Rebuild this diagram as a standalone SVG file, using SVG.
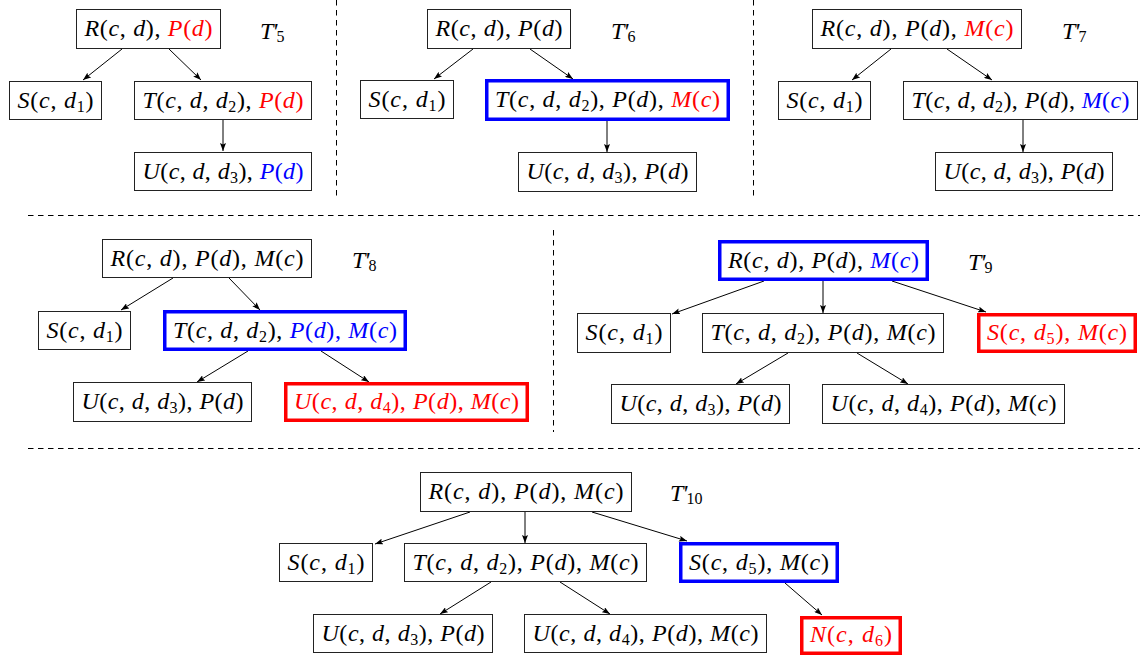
<svg xmlns="http://www.w3.org/2000/svg" width="1140" height="656" viewBox="0 0 1140 656" font-family="'Liberation Serif', serif">
<style>
text{font-family:'Liberation Serif',serif;font-size:24px;fill:#000;text-anchor:middle}
.lbl{text-anchor:start}
.i{font-style:italic}
.s{font-size:16px}
.r{fill:#ff0000}
.b{fill:#0000ff}
.box{fill:#fff;stroke:#222;stroke-width:1}
.bb{fill:#fff;stroke:#0000ff;stroke-width:3.5}
.rb{fill:#fff;stroke:#ff0000;stroke-width:3.5}
.sep{stroke:#000;stroke-width:1;stroke-dasharray:5.5 4.5;fill:none}
.e{stroke:#000;stroke-width:1;fill:none;marker-end:url(#ah)}
</style>
<defs>
<marker id="ah" markerWidth="8" markerHeight="6" refX="8" refY="3" orient="auto" markerUnits="userSpaceOnUse"><path d="M0,0 L8,3 L0,6 L1.5,3 z" fill="#000"/></marker>
</defs>
<rect width="1140" height="656" fill="#fff"/>
<g id="separators">
<line class="sep" x1="336.5" y1="0" x2="336.5" y2="200"/>
<line class="sep" x1="753.5" y1="0" x2="753.5" y2="200"/>
<line class="sep" x1="28" y1="215.5" x2="1140" y2="215.5"/>
<line class="sep" x1="553.5" y1="230" x2="553.5" y2="432"/>
<line class="sep" x1="28" y1="448.5" x2="1140" y2="448.5"/>
</g>
<g id="connectors">
<line class="e" x1="122" y1="49" x2="83" y2="80"/>
<line class="e" x1="169" y1="49" x2="201" y2="80"/>
<line class="e" x1="223" y1="120" x2="223" y2="151"/>
<line class="e" x1="473" y1="49" x2="434" y2="79"/>
<line class="e" x1="530" y1="49" x2="573" y2="79"/>
<line class="e" x1="607" y1="121" x2="607" y2="152"/>
<line class="e" x1="891" y1="49" x2="852" y2="80"/>
<line class="e" x1="947" y1="49" x2="992" y2="80"/>
<line class="e" x1="1023" y1="120" x2="1023" y2="152"/>
<line class="e" x1="173" y1="278" x2="121" y2="310"/>
<line class="e" x1="229" y1="278" x2="260" y2="310"/>
<line class="e" x1="248" y1="351" x2="197" y2="382"/>
<line class="e" x1="321" y1="351" x2="369" y2="382"/>
<line class="e" x1="764" y1="281" x2="672" y2="314"/>
<line class="e" x1="823" y1="281" x2="823" y2="313"/>
<line class="e" x1="892" y1="281" x2="986" y2="312"/>
<line class="e" x1="788" y1="353" x2="736" y2="384"/>
<line class="e" x1="857" y1="353" x2="908" y2="384"/>
<line class="e" x1="470" y1="512" x2="375" y2="544"/>
<line class="e" x1="525" y1="512" x2="525" y2="543"/>
<line class="e" x1="592" y1="512" x2="687" y2="541"/>
<line class="e" x1="491" y1="582" x2="440" y2="614"/>
<line class="e" x1="560" y1="582" x2="610" y2="614"/>
<line class="e" x1="785" y1="583" x2="822" y2="615"/>
</g>

<g id="t5-label"><text class="lbl" x="260" y="39"><tspan class="i">T</tspan><tspan class="i" dx="-1">'</tspan><tspan class="s" dx="-1" dy="3">5</tspan></text></g>
<g id="t5-R"><rect class="box" x="76.5" y="9.5" width="144" height="39"/><text x="148.5" y="36" textLength="128"><tspan class="i">R</tspan>(<tspan class="i">c</tspan>, <tspan class="i">d</tspan>), <tspan class="r"><tspan class="i">P</tspan>(<tspan class="i">d</tspan>)</tspan></text></g>
<g id="t5-S"><rect class="box" x="9.5" y="81.5" width="92" height="38"/><text x="55.5" y="107.5" textLength="76"><tspan class="i">S</tspan>(<tspan class="i">c</tspan>, <tspan class="i">d</tspan><tspan class="s" dy="4">1</tspan><tspan dy="-4">)</tspan></text></g>
<g id="t5-T"><rect class="box" x="134.5" y="81.5" width="177" height="38"/><text x="223" y="107.5" textLength="161"><tspan class="i">T</tspan>(<tspan class="i">c</tspan>, <tspan class="i">d</tspan>, <tspan class="i">d</tspan><tspan class="s" dy="4">2</tspan><tspan dy="-4">),</tspan> <tspan class="r"><tspan class="i">P</tspan>(<tspan class="i">d</tspan>)</tspan></text></g>
<g id="t5-U"><rect class="box" x="134.5" y="152.5" width="177" height="38"/><text x="223" y="178.5" textLength="161"><tspan class="i">U</tspan>(<tspan class="i">c</tspan>, <tspan class="i">d</tspan>, <tspan class="i">d</tspan><tspan class="s" dy="4">3</tspan><tspan dy="-4">),</tspan> <tspan class="b"><tspan class="i">P</tspan>(<tspan class="i">d</tspan>)</tspan></text></g>

<g id="t6-label"><text class="lbl" x="611" y="39"><tspan class="i">T</tspan><tspan class="i" dx="-1">'</tspan><tspan class="s" dx="-1" dy="3">6</tspan></text></g>
<g id="t6-R"><rect class="box" x="427.5" y="9.5" width="143" height="39"/><text x="499" y="36" textLength="127"><tspan class="i">R</tspan>(<tspan class="i">c</tspan>, <tspan class="i">d</tspan>), <tspan class="i">P</tspan>(<tspan class="i">d</tspan>)</text></g>
<g id="t6-S"><rect class="box" x="360.5" y="80.5" width="93" height="38"/><text x="407" y="106.5" textLength="77"><tspan class="i">S</tspan>(<tspan class="i">c</tspan>, <tspan class="i">d</tspan><tspan class="s" dy="4">1</tspan><tspan dy="-4">)</tspan></text></g>
<g id="t6-T"><rect class="bb" x="486.75" y="80.75" width="241.5" height="38.5"/><text x="607.5" y="107" textLength="225"><tspan class="i">T</tspan>(<tspan class="i">c</tspan>, <tspan class="i">d</tspan>, <tspan class="i">d</tspan><tspan class="s" dy="4">2</tspan><tspan dy="-4">),</tspan> <tspan class="i">P</tspan>(<tspan class="i">d</tspan>), <tspan class="r"><tspan class="i">M</tspan>(<tspan class="i">c</tspan>)</tspan></text></g>
<g id="t6-U"><rect class="box" x="518.5" y="152.5" width="178" height="39"/><text x="607.5" y="179" textLength="162"><tspan class="i">U</tspan>(<tspan class="i">c</tspan>, <tspan class="i">d</tspan>, <tspan class="i">d</tspan><tspan class="s" dy="4">3</tspan><tspan dy="-4">),</tspan> <tspan class="i">P</tspan>(<tspan class="i">d</tspan>)</text></g>

<g id="t7-label"><text class="lbl" x="1062" y="39"><tspan class="i">T</tspan><tspan class="i" dx="-1">'</tspan><tspan class="s" dx="-1" dy="3">7</tspan></text></g>
<g id="t7-R"><rect class="box" x="812.5" y="9.5" width="209" height="39"/><text x="917" y="36" textLength="193"><tspan class="i">R</tspan>(<tspan class="i">c</tspan>, <tspan class="i">d</tspan>), <tspan class="i">P</tspan>(<tspan class="i">d</tspan>), <tspan class="r"><tspan class="i">M</tspan>(<tspan class="i">c</tspan>)</tspan></text></g>
<g id="t7-S"><rect class="box" x="778.5" y="81.5" width="92" height="38"/><text x="824.5" y="107.5" textLength="76"><tspan class="i">S</tspan>(<tspan class="i">c</tspan>, <tspan class="i">d</tspan><tspan class="s" dy="4">1</tspan><tspan dy="-4">)</tspan></text></g>
<g id="t7-T"><rect class="box" x="903.5" y="81.5" width="234" height="38"/><text x="1020.5" y="107.5" textLength="218"><tspan class="i">T</tspan>(<tspan class="i">c</tspan>, <tspan class="i">d</tspan>, <tspan class="i">d</tspan><tspan class="s" dy="4">2</tspan><tspan dy="-4">),</tspan> <tspan class="i">P</tspan>(<tspan class="i">d</tspan>), <tspan class="b"><tspan class="i">M</tspan>(<tspan class="i">c</tspan>)</tspan></text></g>
<g id="t7-U"><rect class="box" x="935.5" y="152.5" width="177" height="38"/><text x="1024" y="178.5" textLength="161"><tspan class="i">U</tspan>(<tspan class="i">c</tspan>, <tspan class="i">d</tspan>, <tspan class="i">d</tspan><tspan class="s" dy="4">3</tspan><tspan dy="-4">),</tspan> <tspan class="i">P</tspan>(<tspan class="i">d</tspan>)</text></g>

<g id="t8-label"><text class="lbl" x="352" y="268"><tspan class="i">T</tspan><tspan class="i" dx="-1">'</tspan><tspan class="s" dx="-1" dy="3">8</tspan></text></g>
<g id="t8-R"><rect class="box" x="102.5" y="239.5" width="209" height="38"/><text x="207" y="265.5" textLength="193"><tspan class="i">R</tspan>(<tspan class="i">c</tspan>, <tspan class="i">d</tspan>), <tspan class="i">P</tspan>(<tspan class="i">d</tspan>), <tspan class="i">M</tspan>(<tspan class="i">c</tspan>)</text></g>
<g id="t8-S"><rect class="box" x="38.5" y="311.5" width="92" height="38"/><text x="84.5" y="337.5" textLength="76"><tspan class="i">S</tspan>(<tspan class="i">c</tspan>, <tspan class="i">d</tspan><tspan class="s" dy="4">1</tspan><tspan dy="-4">)</tspan></text></g>
<g id="t8-T"><rect class="bb" x="164.75" y="311.75" width="240.5" height="37.5"/><text x="285" y="337.5" textLength="224"><tspan class="i">T</tspan>(<tspan class="i">c</tspan>, <tspan class="i">d</tspan>, <tspan class="i">d</tspan><tspan class="s" dy="4">2</tspan><tspan dy="-4">),</tspan> <tspan class="b"><tspan class="i">P</tspan>(<tspan class="i">d</tspan>), <tspan class="i">M</tspan>(<tspan class="i">c</tspan>)</tspan></text></g>
<g id="t8-U3"><rect class="box" x="73.5" y="382.5" width="178" height="39"/><text x="162.5" y="409" textLength="162"><tspan class="i">U</tspan>(<tspan class="i">c</tspan>, <tspan class="i">d</tspan>, <tspan class="i">d</tspan><tspan class="s" dy="4">3</tspan><tspan dy="-4">),</tspan> <tspan class="i">P</tspan>(<tspan class="i">d</tspan>)</text></g>
<g id="t8-U4"><rect class="rb" x="285.75" y="383.75" width="241.5" height="36.5"/><text class="r" x="406.5" y="409" textLength="225"><tspan class="i">U</tspan>(<tspan class="i">c</tspan>, <tspan class="i">d</tspan>, <tspan class="i">d</tspan><tspan class="s" dy="4">4</tspan><tspan dy="-4">),</tspan> <tspan class="i">P</tspan>(<tspan class="i">d</tspan>), <tspan class="i">M</tspan>(<tspan class="i">c</tspan>)</text></g>

<g id="t9-label"><text class="lbl" x="968" y="270"><tspan class="i">T</tspan><tspan class="i" dx="-1">'</tspan><tspan class="s" dx="-1" dy="3">9</tspan></text></g>
<g id="t9-R"><rect class="bb" x="719.75" y="241.75" width="207.5" height="37.5"/><text x="823.5" y="267.5" textLength="191"><tspan class="i">R</tspan>(<tspan class="i">c</tspan>, <tspan class="i">d</tspan>), <tspan class="i">P</tspan>(<tspan class="i">d</tspan>), <tspan class="b"><tspan class="i">M</tspan>(<tspan class="i">c</tspan>)</tspan></text></g>
<g id="t9-S1"><rect class="box" x="577.5" y="313.5" width="93" height="39"/><text x="624" y="340" textLength="77"><tspan class="i">S</tspan>(<tspan class="i">c</tspan>, <tspan class="i">d</tspan><tspan class="s" dy="4">1</tspan><tspan dy="-4">)</tspan></text></g>
<g id="t9-T"><rect class="box" x="702.5" y="313.5" width="241" height="39"/><text x="823" y="340" textLength="225"><tspan class="i">T</tspan>(<tspan class="i">c</tspan>, <tspan class="i">d</tspan>, <tspan class="i">d</tspan><tspan class="s" dy="4">2</tspan><tspan dy="-4">),</tspan> <tspan class="i">P</tspan>(<tspan class="i">d</tspan>), <tspan class="i">M</tspan>(<tspan class="i">c</tspan>)</text></g>
<g id="t9-S5"><rect class="rb" x="978.75" y="314.75" width="156.5" height="36.5"/><text class="r" x="1057" y="340" textLength="140"><tspan class="i">S</tspan>(<tspan class="i">c</tspan>, <tspan class="i">d</tspan><tspan class="s" dy="4">5</tspan><tspan dy="-4">),</tspan> <tspan class="i">M</tspan>(<tspan class="i">c</tspan>)</text></g>
<g id="t9-U3"><rect class="box" x="611.5" y="384.5" width="178" height="39"/><text x="700.5" y="411" textLength="162"><tspan class="i">U</tspan>(<tspan class="i">c</tspan>, <tspan class="i">d</tspan>, <tspan class="i">d</tspan><tspan class="s" dy="4">3</tspan><tspan dy="-4">),</tspan> <tspan class="i">P</tspan>(<tspan class="i">d</tspan>)</text></g>
<g id="t9-U4"><rect class="box" x="822.5" y="384.5" width="242" height="39"/><text x="943.5" y="411" textLength="226"><tspan class="i">U</tspan>(<tspan class="i">c</tspan>, <tspan class="i">d</tspan>, <tspan class="i">d</tspan><tspan class="s" dy="4">4</tspan><tspan dy="-4">),</tspan> <tspan class="i">P</tspan>(<tspan class="i">d</tspan>), <tspan class="i">M</tspan>(<tspan class="i">c</tspan>)</text></g>

<g id="t10-label"><text class="lbl" x="670" y="501"><tspan class="i">T</tspan><tspan class="i" dx="-1">'</tspan><tspan class="s" dx="-1" dy="3">10</tspan></text></g>
<g id="t10-R"><rect class="box" x="420.5" y="472.5" width="211" height="39"/><text x="526" y="499" textLength="195"><tspan class="i">R</tspan>(<tspan class="i">c</tspan>, <tspan class="i">d</tspan>), <tspan class="i">P</tspan>(<tspan class="i">d</tspan>), <tspan class="i">M</tspan>(<tspan class="i">c</tspan>)</text></g>
<g id="t10-S1"><rect class="box" x="279.5" y="543.5" width="93" height="38"/><text x="326" y="569.5" textLength="77"><tspan class="i">S</tspan>(<tspan class="i">c</tspan>, <tspan class="i">d</tspan><tspan class="s" dy="4">1</tspan><tspan dy="-4">)</tspan></text></g>
<g id="t10-T"><rect class="box" x="404.5" y="543.5" width="242" height="38"/><text x="525.5" y="569.5" textLength="226"><tspan class="i">T</tspan>(<tspan class="i">c</tspan>, <tspan class="i">d</tspan>, <tspan class="i">d</tspan><tspan class="s" dy="4">2</tspan><tspan dy="-4">),</tspan> <tspan class="i">P</tspan>(<tspan class="i">d</tspan>), <tspan class="i">M</tspan>(<tspan class="i">c</tspan>)</text></g>
<g id="t10-S5"><rect class="bb" x="680.75" y="543.75" width="156.5" height="37.5"/><text x="759" y="569.5" textLength="140"><tspan class="i">S</tspan>(<tspan class="i">c</tspan>, <tspan class="i">d</tspan><tspan class="s" dy="4">5</tspan><tspan dy="-4">),</tspan> <tspan class="i">M</tspan>(<tspan class="i">c</tspan>)</text></g>
<g id="t10-U3"><rect class="box" x="313.5" y="614.5" width="179" height="38"/><text x="403" y="640.5" textLength="163"><tspan class="i">U</tspan>(<tspan class="i">c</tspan>, <tspan class="i">d</tspan>, <tspan class="i">d</tspan><tspan class="s" dy="4">3</tspan><tspan dy="-4">),</tspan> <tspan class="i">P</tspan>(<tspan class="i">d</tspan>)</text></g>
<g id="t10-U4"><rect class="box" x="524.5" y="614.5" width="242" height="38"/><text x="645.5" y="640.5" textLength="226"><tspan class="i">U</tspan>(<tspan class="i">c</tspan>, <tspan class="i">d</tspan>, <tspan class="i">d</tspan><tspan class="s" dy="4">4</tspan><tspan dy="-4">),</tspan> <tspan class="i">P</tspan>(<tspan class="i">d</tspan>), <tspan class="i">M</tspan>(<tspan class="i">c</tspan>)</text></g>
<g id="t10-N"><rect class="rb" x="801.75" y="617.75" width="98.5" height="35.5"/><text class="r" x="851" y="642" textLength="82"><tspan class="i">N</tspan>(<tspan class="i">c</tspan>, <tspan class="i">d</tspan><tspan class="s" dy="4">6</tspan><tspan dy="-4">)</tspan></text></g>
</svg>
